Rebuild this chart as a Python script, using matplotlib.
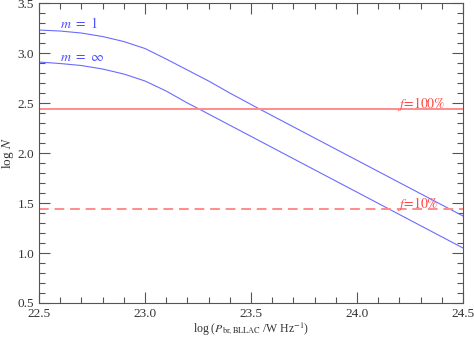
import matplotlib
matplotlib.use("Agg")
import matplotlib.pyplot as plt
from matplotlib.ticker import MultipleLocator

# data
logP_m1 = [22.5, 22.6, 22.7, 22.8, 22.9, 23.0, 23.1, 23.2, 23.3, 23.4, 23.54, 24.5]
logN_m1 = [3.23, 3.22, 3.20, 3.165, 3.115, 3.045, 2.94, 2.83, 2.72, 2.60, 2.44, 1.37]

logP_minf = [22.5, 22.6, 22.7, 22.8, 22.9, 23.0, 23.1, 23.2, 23.255, 24.5]
logN_minf = [2.91, 2.895, 2.875, 2.84, 2.79, 2.72, 2.62, 2.50, 2.44, 1.05]

f100_level = 2.44
f10_level = 1.44

plt.rcParams['font.family'] = ['Liberation Serif', 'DejaVu Serif']
plt.rcParams['mathtext.fontset'] = 'stix'

fig = plt.figure(figsize=(4.74, 3.37), dpi=100)
ax = fig.add_axes([0.0823, 0.1009, 0.8945, 0.8901])

blue = "#6b6bff"
red = "#ff8c8c"

ax.plot(logP_m1, logN_m1, color=blue, lw=0.8)
ax.plot(logP_minf, logN_minf, color=blue, lw=0.8)
ax.axhline(f100_level, color=red, lw=1.4)
ax.axhline(f10_level, color=red, lw=1.4, ls=(0, (5, 3)))

ax.text(22.6, 3.25, r"$m\ =\ 1$", color="#5050ff", fontsize=10)
ax.text(22.6, 2.92, r"$m\ =\ \infty$", color="#5050ff", fontsize=10)
ax.text(24.19, 2.455, r"$f\!=\!100\%$", color="#ff4848", fontsize=10)
ax.text(24.19, 1.455, r"$f\!=\!10\%$", color="#ff4848", fontsize=10)

ax.set_xlim(22.5, 24.5)
ax.set_ylim(0.5, 3.5)
ax.xaxis.set_major_locator(MultipleLocator(0.5))
ax.xaxis.set_minor_locator(MultipleLocator(0.1))
ax.yaxis.set_major_locator(MultipleLocator(0.5))
ax.yaxis.set_minor_locator(MultipleLocator(0.1))
ax.xaxis.set_major_formatter(plt.FormatStrFormatter("%.1f"))
ax.yaxis.set_major_formatter(plt.FormatStrFormatter("%.1f"))

ax.tick_params(which="both", direction="in", top=True, right=True,
               color="#555555", labelsize=9.5, labelcolor="#333333")
ax.tick_params(which="major", length=8, width=0.8)
ax.tick_params(which="minor", length=4, width=0.8)
ax.tick_params(axis="x", pad=3.5)
for s in ax.spines.values():
    s.set_color("#555555")
    s.set_linewidth(0.8)

ax.set_xlabel(r"log (${P}_{\rm br,BLLAC}$ /W Hz$^{-1}$)", fontsize=8.5, color="#333333", va="top")
ax.xaxis.set_label_coords(0.5, -0.059)
ax.set_ylabel(r"log $N$", fontsize=9.5, color="#333333")
ax.yaxis.set_label_coords(-0.055, 0.5)

fig.savefig("out.png", dpi=100)
